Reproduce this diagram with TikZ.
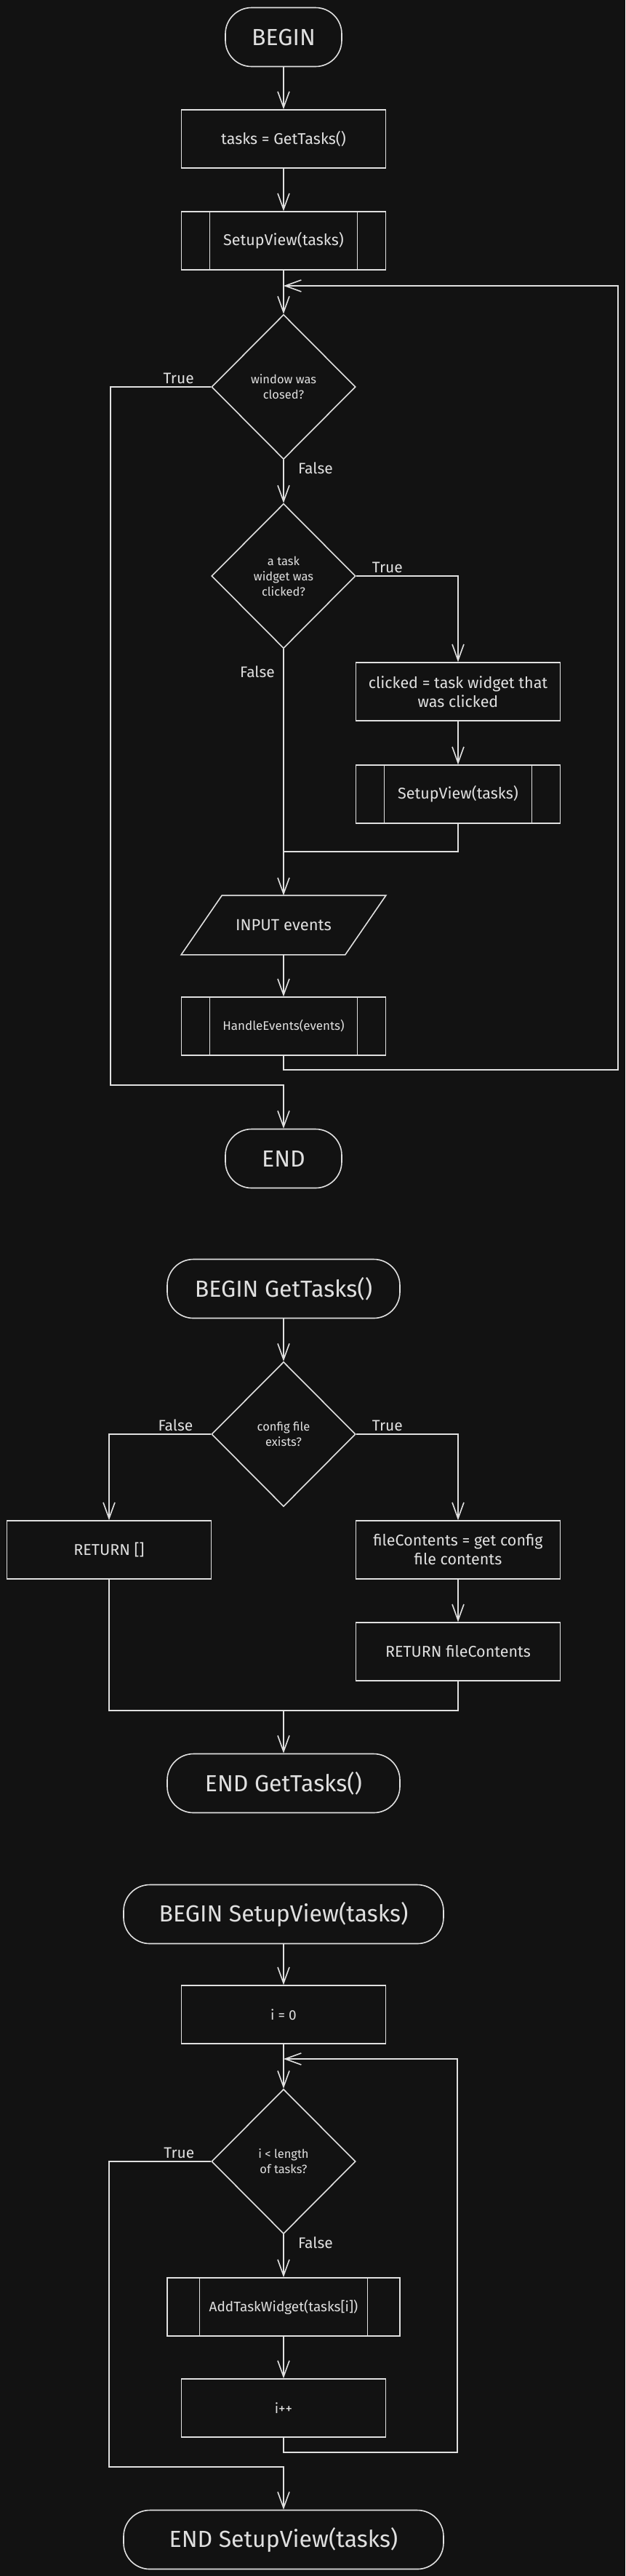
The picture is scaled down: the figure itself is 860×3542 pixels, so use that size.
\documentclass[tikz,border=0pt]{standalone}
\usepackage{fontspec}
\setmainfont{Fira Sans}
\usetikzlibrary{shapes.geometric,arrows.meta}

\definecolor{bg}{RGB}{18,18,18}
\definecolor{ink}{RGB}{224,224,224}

\begin{document}
\begin{tikzpicture}[x=1pt, y=-1pt, color=ink, line width=1.6pt,
    box/.style = {draw, rectangle, minimum width=281pt, minimum height=80pt, inner sep=2pt, align=center, font=\fontsize{21.5}{26}\selectfont},
    term/.style = {draw, rectangle, rounded corners=36pt, minimum height=81pt, font=\fontsize{32}{36}\selectfont},
    cond/.style = {draw, diamond, minimum width=198pt, minimum height=199pt, inner sep=0pt, align=center, font=\fontsize{16.5}{21}\selectfont},
    lbl/.style = {font=\fontsize{21}{25}\selectfont},
    small/.style = {font=\fontsize{19}{23}\selectfont},
    flow/.style = {-{Straight Barb[length=22pt,width=16pt]}}]
    \fill[bg] (0,0) rectangle (860,3542);

    % main program
    \node[term](begin) at (390,51) [minimum width=160pt]{BEGIN};
    \node[box](gettasks) at (390,191){tasks = GetTasks()};
    \node[box](setup) at (390,331){SetupView(tasks)};
    \node[cond](closed) at (390,532){window was\\closed?};
    \node[cond](clicked) at (390,792){a task\\widget was\\clicked?};
    \node[box](which) at (630,951){clicked = task widget that\\was clicked};
    \node[box](setup2) at (630,1092){SetupView(tasks)};
    \node(input) at (390,1272) [minimum width=224pt, minimum height=80pt, font=\fontsize{22}{26}\selectfont]{INPUT events};
    \node[box](handle) at (390,1411) [font=\fontsize{17}{20}\selectfont]{HandleEvents(events)};
    \node[term](end) at (390,1593) [minimum width=160pt]{END};
    \coordinate (join) at (390,1171);
    \coordinate (loop) at (850,1471);
    \coordinate (loophead) at (390,393);
    \coordinate (exit) at (152,1492);

    \draw ([xshift=-28pt]input.south west) -- ([xshift=28pt]input.north west) -- ([xshift=28pt]input.north east) -- ([xshift=-28pt]input.south east) -- cycle;
    \draw[flow] (begin) -- (gettasks);
    \draw[flow] (gettasks) -- (setup);
    \draw[flow] (setup) -- (closed);
    \draw[flow] (closed) -- node[lbl, anchor=west, pos=0.2, xshift=16pt]{False} (clicked);
    \draw[flow] (clicked.east) -| node[lbl, anchor=south west, pos=0.064]{True} (which);
    \draw[flow] (which) -- (setup2);
    \draw[flow] (clicked) -- node[lbl, anchor=east, pos=0.094, xshift=-8pt]{False} (input);
    \draw (setup2) |- (join);
    \draw[flow] (input) -- (handle);
    \draw[flow] (handle) |- (loop) |- (loophead);
    \draw[flow] (closed.west) -| node[lbl, anchor=south east, pos=0.07]{True} (exit) -- (exit -| end) -- (end);

    % GetTasks()
    \node[term](gbegin) at (390,1772) [minimum width=320pt]{BEGIN GetTasks()};
    \node[cond](exists) at (390,1972){config file\\exists?};
    \node[box](empty) at (150,2131){RETURN []};
    \node[box](read) at (630,2131){fileContents = get config\\file contents};
    \node[box](ret) at (630,2271){RETURN fileContents};
    \node[term](gend) at (390,2452) [minimum width=320pt]{END GetTasks()};
    \coordinate (gjoin) at (390,2352);

    \draw[flow] (gbegin) -- (exists);
    \draw[flow] (exists.west) -| node[lbl, anchor=south east, pos=0.074]{False} (empty);
    \draw[flow] (exists.east) -| node[lbl, anchor=south west, pos=0.064]{True} (read);
    \draw[flow] (read) -- (ret);
    \draw (empty) |- (gjoin);
    \draw (ret) |- (gjoin);
    \draw[flow] (gjoin) -- (gend);

    % SetupView(tasks)
    \node[term](sbegin) at (390,2632) [minimum width=440pt]{BEGIN SetupView(tasks)};
    \node[box, small](init) at (390,2770){i = 0};
    \node[cond](more) at (390,2972){i < length\\of tasks?};
    \node[box, small](add) at (390,3172) [minimum width=320pt]{AddTaskWidget(tasks[i])};
    \node[box, small](inc) at (390,3311){i++};
    \node[term](send) at (390,3492) [minimum width=440pt]{END SetupView(tasks)};
    \coordinate (sloop) at (629,3372);
    \coordinate (shead) at (390,2831);
    \coordinate (sexit) at (150,3392);

    \draw[flow] (sbegin) -- (init);
    \draw[flow] (init) -- (more);
    \draw[flow] (more) -- node[lbl, anchor=west, pos=0.2, xshift=16pt]{False} (add);
    \draw[flow] (add) -- (inc);
    \draw[flow] (inc) |- (sloop) |- (shead);
    \draw[flow] (more.west) -| node[lbl, anchor=south east, pos=0.067]{True} (sexit) -- (sexit -| send) -- (send);

    % subroutine bars
    \foreach \n in {setup, setup2, handle} {
        \draw[line width=1pt] ([xshift=40pt]\n.north west) -- ([xshift=40pt]\n.south west)
            ([xshift=-40pt]\n.north east) -- ([xshift=-40pt]\n.south east);
    }
    \draw[line width=1pt] ([xshift=45pt]add.north west) -- ([xshift=45pt]add.south west)
        ([xshift=-45pt]add.north east) -- ([xshift=-45pt]add.south east);
\end{tikzpicture}
\end{document}
